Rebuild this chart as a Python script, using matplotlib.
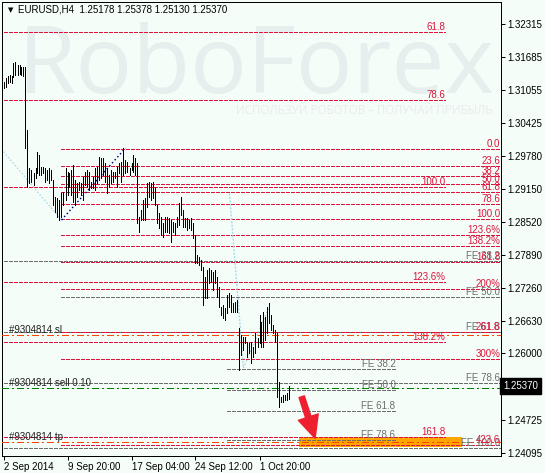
import numpy as np
import matplotlib
matplotlib.use("Agg")
import matplotlib.pyplot as plt
from matplotlib.patches import Rectangle

plt.rcParams["font.family"] = ["Liberation Sans", "DejaVu Sans"]
plt.rcParams["lines.scale_dashes"] = False

# ===================== DATA =====================

# H4 bars, high / low, left to right
bar_high = [
    1.3121, 1.3128, 1.3133, 1.3134, 1.3133, 1.3157, 1.3159, 1.3153,
    1.3153, 1.3150, 1.3150, 1.3150, 1.3029, 1.2956, 1.2952, 1.2946,
    1.2956, 1.2986, 1.2981, 1.2958, 1.2958, 1.2956, 1.2952, 1.2956, 1.2952,
    1.2933, 1.2900, 1.2898, 1.2894, 1.2908, 1.2910, 1.2956, 1.2948, 1.2946,
    1.2952, 1.2962, 1.2933, 1.2927, 1.2929, 1.2927, 1.2938, 1.2948,
    1.2952, 1.2948, 1.2929, 1.2938, 1.2956, 1.2958, 1.2977, 1.2975,
    1.2975, 1.2965, 1.2956, 1.2942, 1.2952, 1.2948, 1.2948, 1.2958,
    1.2965, 1.2967, 1.2994, 1.2971, 1.2967, 1.2956, 1.2965, 1.2981, 1.2975,
    1.2965, 1.2862, 1.2875, 1.2894, 1.2898, 1.2927, 1.2929, 1.2927,
    1.2929, 1.2919, 1.2885, 1.2869, 1.2862, 1.2850, 1.2862, 1.2862,
    1.2860, 1.2856, 1.2852, 1.2850, 1.2862, 1.2888, 1.2900, 1.2875, 1.2860,
    1.2860, 1.2856, 1.2860, 1.2850, 1.2827, 1.2789, 1.2785, 1.2779,
    1.2766, 1.2746, 1.2760, 1.2764, 1.2760, 1.2756, 1.2760, 1.2746,
    1.2727, 1.2689, 1.2693, 1.2687, 1.2712, 1.2716, 1.2712, 1.2697,
    1.2699, 1.2702, 1.2649, 1.2635, 1.2631, 1.2631, 1.2622, 1.2620, 1.2622,
    1.2612, 1.2639, 1.2629, 1.2674, 1.2660, 1.2679, 1.2670, 1.2689, 1.2697,
    1.2674, 1.2654, 1.2645, 1.2639, 1.2545, 1.2516, 1.2520, 1.2520, 1.2524,
    1.25378,
]
bar_low = [
    1.3109, 1.3111, 1.3119, 1.3121, 1.3118, 1.3131, 1.3134, 1.3135,
    1.3137, 1.3135, 1.3133, 1.2994, 1.2919, 1.2927, 1.2929, 1.2923,
    1.2937, 1.2946, 1.2942, 1.2942, 1.2946, 1.2929, 1.2933, 1.2927, 1.2933,
    1.2885, 1.2871, 1.2862, 1.2856, 1.2862, 1.2885, 1.2894, 1.2904, 1.2919,
    1.2904, 1.2890, 1.2885, 1.2900, 1.2914, 1.2904, 1.2894, 1.2923,
    1.2919, 1.2914, 1.2917, 1.2917, 1.2914, 1.2927, 1.2933, 1.2937,
    1.2942, 1.2929, 1.2908, 1.2919, 1.2927, 1.2929, 1.2937, 1.2919,
    1.2946, 1.2929, 1.2942, 1.2946, 1.2948, 1.2942, 1.2952, 1.2948, 1.2942,
    1.2850, 1.2833, 1.2856, 1.2856, 1.2856, 1.2881, 1.2900, 1.2894,
    1.2898, 1.2885, 1.2850, 1.2840, 1.2827, 1.2823, 1.2833, 1.2833,
    1.2831, 1.2814, 1.2833, 1.2827, 1.2842, 1.2846, 1.2865, 1.2842, 1.2842,
    1.2837, 1.2840, 1.2837, 1.2821, 1.2773, 1.2773, 1.2769, 1.2760,
    1.2693, 1.2706, 1.2706, 1.2735, 1.2737, 1.2722, 1.2735, 1.2708,
    1.2689, 1.2674, 1.2668, 1.2664, 1.2677, 1.2689, 1.2679, 1.2679,
    1.2679, 1.2679, 1.2568, 1.2597, 1.2606, 1.2620, 1.2593, 1.2601, 1.2581,
    1.2593, 1.2601, 1.2612, 1.2620, 1.2612, 1.2612, 1.2626, 1.2639, 1.2658,
    1.2645, 1.2639, 1.2622, 1.2516, 1.2497, 1.2506, 1.2506, 1.2510, 1.2510,
    1.25130,
]

header_text = "EURUSD,H4  1.25178 1.25378 1.25130 1.25370"
last_price = 1.25370

time_labels = ["2 Sep 2014", "9 Sep 20:00", "17 Sep 04:00", "24 Sep 12:00", "1 Oct 20:00"]
time_label_bars = [0, 32, 64, 96, 128]

price_ticks = [1.32315, 1.31685, 1.31055, 1.30425, 1.29780, 1.29150, 1.28520,
               1.27890, 1.27260, 1.26630, 1.26000, 1.25370, 1.24725, 1.24095]

# big retracement from the early-September high
fib_top_prices = (1.3699, 1.2920)          # 0% / 100%
fib_top_bars = (0, 221)
fib_top_levels = [61.8, 78.6, 100.0, 123.6, 138.2, 161.8]
fib_top_labels = ["61.8", "78.6", "100.0", "123.6%", "138.2%", "161.8"]

# retracement / extension of the 12-16 Sep swing
fib_main_prices = (1.2992, 1.2858)
fib_main_start = 29
fib_main_levels = [0.0, 23.6, 38.2, 50.0, 61.8, 78.6, 100.0, 123.6, 138.2,
                   161.8, 200.0, 261.8, 300.0, 423.6]
fib_main_labels = ["0.0", "23.6", "38.2", "50.0", "61.8", "78.6", "100.0", "123.6%",
                   "138.2%", "161.8", "200%", "261.8", "300%", "423.6"]

# long fibo expansion
fe_long_prices = (1.29993, 1.24182)
fe_long_levels = [38.2, 50.0, 61.8, 78.6, 100.0]
fe_long_start = [0, 29, 0, 0, 0]

# short fibo expansion
fe_short_prices = (1.2698, 1.2361)
fe_short_bars = (112, 196)
fe_short_levels = [38.2, 50.0, 61.8, 78.6]

order_labels = ["#9304814 sl", "#9304814 sell 0.10", "#9304814 tp"]
order_prices = [1.26352, 1.25330, 1.24293]

zone_bars = (148, 229)
zone_prices = (1.24213, 1.24395)

arrow_bars = (149.1, 155.8)
arrow_prices = (1.25168, 1.24370)

trend_bars = [(0, 29), (29, 61), (113, 120), (120, 133)]
trend_prices = [(1.2987, 1.2856), (1.2856, 1.2994), (1.2907, 1.2572), (1.2572, 1.2691)]

# ===================== STYLE =====================

BG = "#F5FDF8"
RED = "#DC143C"
GRAY = "#6E6E6E"
ORDER_RED = "#FF4500"
GREEN = "#008000"
PX = 0.72  # one pixel in points at dpi 100


def level_price(prices, lvl):
    return prices[0] + (prices[1] - prices[0]) * lvl / 100.0


def hline(x0, x1, p, color, dashes, zorder=2):
    ax.plot([x0, x1], [p, p], color=color, lw=PX, dashes=dashes,
            antialiased=False, zorder=zorder, solid_capstyle="butt")


fig = plt.figure(figsize=(5.45, 4.73), dpi=100)
fig.patch.set_facecolor(BG)
ax = fig.add_axes([2 / 545, 17.5 / 473, 499 / 545, 453.5 / 473])
ax.set_facecolor(BG)

x_left, x_right = -0.75, 248.75
ax.set_xlim(x_left, x_right)
ax.set_ylim(1.24040, 1.32743)

# watermark
ax.text(0.032, 0.799, "RoboForex", transform=ax.transAxes, ha="left", va="baseline",
        fontsize=68, family="Open Sans", color="#E6EEEE", zorder=0)
ax.text(0.727, 0.752, "ИСПОЛЬЗУЙ РОБОТОВ – ПОЛУЧАЙ ПРИБЫЛЬ", transform=ax.transAxes,
        ha="center", va="baseline", fontsize=8.3, family="Open Sans", color="#E6EDED",
        zorder=0)

# target zone
ax.add_patch(Rectangle((zone_bars[0], zone_prices[0]), zone_bars[1] - zone_bars[0],
                       zone_prices[1] - zone_prices[0], facecolor="#FFA500",
                       edgecolor="#FFA500", lw=PX, zorder=1))

red_dash = (3 * PX, 2 * PX)
gray_dash = (3 * PX, 2 * PX)
lab_right = x_right - 0.4

# long FE (gray), labels partly hidden under the red ones
for lvl, start in zip(fe_long_levels, fe_long_start):
    p = level_price(fe_long_prices, lvl)
    hline(start, x_right, p, GRAY, gray_dash)
    ax.text(lab_right, p, f"FE {lvl:.1f}", ha="right", va="bottom", fontsize=7,
            color=GRAY, zorder=5)

# short FE
for lvl in fe_short_levels:
    p = level_price(fe_short_prices, lvl)
    hline(fe_short_bars[0], fe_short_bars[1], p, GRAY, gray_dash)
    ax.text(fe_short_bars[1], p, f"FE {lvl:.1f}", ha="right", va="bottom",
            fontsize=7, color=GRAY, zorder=5)

# top retracement
for lvl, lab in zip(fib_top_levels, fib_top_labels):
    p = level_price(fib_top_prices, lvl)
    hline(fib_top_bars[0], fib_top_bars[1], p, RED, red_dash)
    ax.text(fib_top_bars[1], p, lab, ha="right", va="bottom", fontsize=7,
            color=RED, zorder=5)

# main retracement
for lvl, lab in zip(fib_main_levels, fib_main_labels):
    p = level_price(fib_main_prices, lvl)
    hline(fib_main_start, x_right, p, RED, red_dash)
    ax.text(lab_right, p, lab, ha="right", va="bottom", fontsize=7,
            color=RED, zorder=6)

# order lines
dash_dot = (6 * PX, 3 * PX, 2 * PX, 3 * PX)
for lab, p, col in zip(order_labels, order_prices, [ORDER_RED, GREEN, ORDER_RED]):
    hline(x_left, x_right, p, col, dash_dot, zorder=3)
    ax.text(2.75, p, lab, ha="left", va="bottom", fontsize=7, color="#202020", zorder=5)

# trend lines
trend_styles = [("#A8D8E8", (1.5 * PX, 2 * PX)), ("#000080", (1.5 * PX, 2.5 * PX)),
                ("#A8D8E8", (2 * PX, 1.5 * PX)), ("#A8D8E8", (1.5 * PX, 2 * PX))]
for xs, ps, (col, dsh) in zip(trend_bars, trend_prices, trend_styles):
    ax.plot(xs, ps, color=col, lw=1.0, dashes=dsh, zorder=3)

# price bars
x = np.arange(len(bar_high))
ax.vlines(x, bar_low, bar_high, colors="black", linewidth=PX,
          antialiased=False, zorder=4)

# arrow
ax.annotate("", xy=(arrow_bars[1], arrow_prices[1]), xytext=(arrow_bars[0], arrow_prices[0]),
            arrowprops=dict(arrowstyle="simple,head_length=1.6,head_width=1.5,tail_width=0.4",
                            color="#EE2030", shrinkA=0, shrinkB=0, mutation_scale=10),
            zorder=7)

# axes
for s in ax.spines.values():
    s.set_linewidth(PX)
    s.set_color("black")
ax.yaxis.tick_right()
ax.set_yticks(price_ticks)
ax.set_yticklabels([f"{t:.5f}" for t in price_ticks])
ax.tick_params(axis="y", direction="out", length=3, width=PX, pad=1.5, labelsize=7)
ax.set_xticks(time_label_bars)
ax.set_xticklabels(time_labels)
for t in ax.get_xticklabels():
    t.set_horizontalalignment("left")
ax.tick_params(axis="x", direction="out", length=3, width=PX, pad=1.5, labelsize=7)

ax.text(1.004, last_price, f"{last_price:.5f}", transform=ax.get_yaxis_transform(),
        ha="left", va="center", fontsize=7, color="white", zorder=10,
        bbox=dict(boxstyle="square,pad=0.3", facecolor="black", edgecolor="black"))

# header
fig.text(10.5 / 545, 1 - 10.5 / 473, "▼", fontsize=5, ha="center", va="center",
         family="DejaVu Sans")
fig.text(18 / 545, 1 - 10 / 473, header_text, fontsize=7, ha="left", va="center")

fig.savefig("out.png", dpi=100, facecolor=BG)
